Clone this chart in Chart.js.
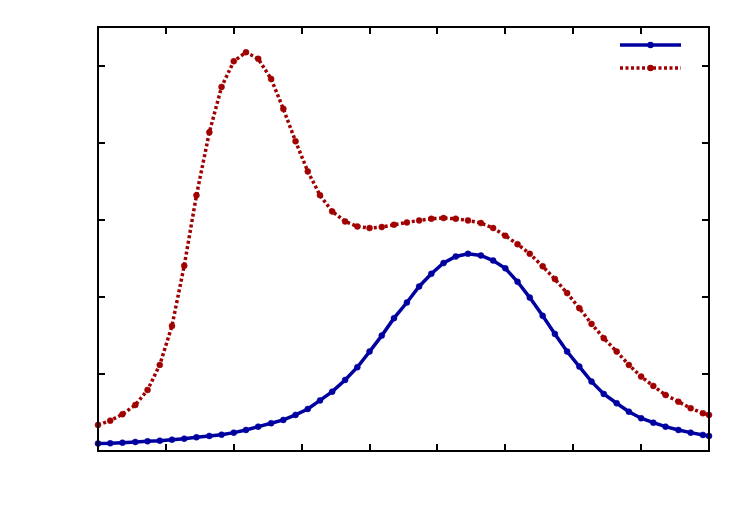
<!DOCTYPE html>
<html>
<head>
<meta charset="utf-8">
<script src="https://cdn.jsdelivr.net/npm/chart.js@4/dist/chart.umd.min.js"></script>
<style>
  html, body { margin: 0; padding: 0; background: #ffffff; }
  #wrap { width: 750px; height: 525px; }
</style>
</head>
<body>
<div id="wrap"><canvas id="c" width="750" height="525"></canvas></div>
<script>
// ---- data ----
const xValues = [0, 0.18, 0.36, 0.55, 0.73, 0.91, 1.09, 1.27, 1.45, 1.64, 1.82, 2.0, 2.18, 2.36, 2.55, 2.73, 2.91,
  3.09, 3.27, 3.45, 3.64, 3.82, 4.0, 4.18, 4.36, 4.55, 4.73, 4.91, 5.09, 5.27, 5.45, 5.64, 5.82, 6.0,
  6.18, 6.36, 6.55, 6.73, 6.91, 7.09, 7.27, 7.45, 7.64, 7.82, 8.0, 8.18, 8.36, 8.55, 8.73, 8.91, 9.0];

const blueValues = [0.097, 0.100, 0.108, 0.117, 0.126, 0.134, 0.147, 0.160, 0.178, 0.195, 0.212, 0.238, 0.273,
  0.316, 0.360, 0.403, 0.468, 0.545, 0.656, 0.770, 0.922, 1.087, 1.290, 1.497, 1.723, 1.926, 2.134, 2.299,
  2.438, 2.523, 2.558, 2.536, 2.471, 2.370, 2.195, 1.990, 1.753, 1.519, 1.290, 1.095, 0.900, 0.740, 0.619,
  0.510, 0.425, 0.368, 0.316, 0.273, 0.238, 0.208, 0.195];

const redValues = [0.338, 0.394, 0.477, 0.597, 0.792, 1.117, 1.623, 2.403, 3.316, 4.134, 4.723, 5.056, 5.173,
  5.087, 4.827, 4.438, 4.017, 3.627, 3.318, 3.108, 2.978, 2.913, 2.892, 2.905, 2.935, 2.965, 2.991, 3.013,
  3.022, 3.013, 2.991, 2.957, 2.892, 2.792, 2.682, 2.558, 2.396, 2.230, 2.048, 1.853, 1.649, 1.464, 1.290,
  1.117, 0.965, 0.844, 0.727, 0.640, 0.555, 0.490, 0.468];

const xTicks = [0, 1, 2, 3, 4, 5, 6, 7, 8, 9];
const yTicks = [0, 1, 2, 3, 4, 5];
const seriesNames = ['', ''];

const BLUE = '#0000a0';
const RED = '#a00000';

function pts(xs, ys) { return xs.map((x, i) => ({ x: x, y: ys[i] })); }

// frame, mirrored inward ticks and key
const framePlugin = {
  id: 'frame',
  afterDatasetsDraw(chart) {
    const ctx = chart.ctx;
    const a = chart.chartArea;
    const xs = chart.scales.x, ys = chart.scales.y;
    const L = 7;
    ctx.save();
    ctx.strokeStyle = '#000';
    ctx.lineWidth = 2;
    ctx.beginPath();
    xTicks.forEach(v => {
      const px = Math.round(xs.getPixelForValue(v));
      if (px <= a.left + 1 || px >= a.right - 1) return;
      ctx.moveTo(px, a.bottom); ctx.lineTo(px, a.bottom - L);
      ctx.moveTo(px, a.top); ctx.lineTo(px, a.top + L);
    });
    yTicks.forEach(v => {
      const py = Math.round(ys.getPixelForValue(v));
      if (py <= a.top + 1 || py >= a.bottom - 1) return;
      ctx.moveTo(a.left, py); ctx.lineTo(a.left + L, py);
      ctx.moveTo(a.right, py); ctx.lineTo(a.right - L, py);
    });
    ctx.stroke();
    ctx.strokeRect(a.left, a.top, a.right - a.left, a.bottom - a.top);

    // key (top right)
    const keyRows = [
      { ds: chart.data.datasets[0], y: 45 },
      { ds: chart.data.datasets[1], y: 68 }
    ];
    const x0 = a.right - 89, x1 = a.right - 28, xm = (x0 + x1) / 2;
    keyRows.forEach(r => {
      ctx.save();
      ctx.strokeStyle = r.ds.borderColor;
      ctx.lineWidth = r.ds.borderWidth;
      ctx.setLineDash(r.ds.borderDash || []);
      ctx.beginPath(); ctx.moveTo(x0, r.y); ctx.lineTo(x1, r.y); ctx.stroke();
      ctx.setLineDash([]);
      ctx.fillStyle = r.ds.borderColor;
      ctx.beginPath(); ctx.arc(xm, r.y, 3.2, 0, Math.PI * 2); ctx.fill();
      ctx.restore();
    });
    ctx.restore();
  }
};

new Chart(document.getElementById('c'), {
  type: 'line',
  data: {
    datasets: [
      {
        label: seriesNames[0],
        data: pts(xValues, blueValues),
        borderColor: BLUE, backgroundColor: BLUE,
        borderWidth: 3.5, pointRadius: 3, pointBorderWidth: 0.5,
        pointBackgroundColor: BLUE, pointBorderColor: BLUE,
        tension: 0, clip: false
      },
      {
        label: seriesNames[1],
        data: pts(xValues, redValues),
        borderColor: RED, backgroundColor: RED,
        borderWidth: 3.5, borderDash: [3, 2.5], pointRadius: 3, pointBorderWidth: 0.5,
        pointBackgroundColor: RED, pointBorderColor: RED,
        tension: 0, clip: false
      }
    ]
  },
  options: {
    responsive: false,
    animation: false,
    devicePixelRatio: 1,
    layout: { padding: { left: 98, right: 41, top: 27, bottom: 74 } },
    plugins: { legend: { display: false }, tooltip: { enabled: false }, title: { display: false } },
    scales: {
      x: { type: 'linear', min: 0, max: 9, display: false },
      y: { type: 'linear', min: 0, max: 5.5, display: false }
    }
  },
  plugins: [framePlugin]
});
</script>
</body>
</html>
